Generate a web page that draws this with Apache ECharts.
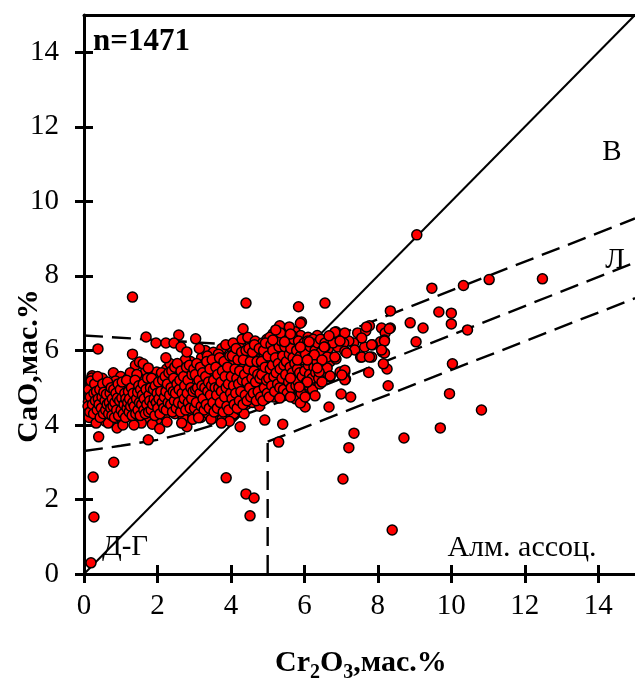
<!DOCTYPE html>
<html>
<head>
<meta charset="utf-8">
<script src="https://cdn.jsdelivr.net/npm/echarts@6/dist/echarts.min.js"></script>
<style>
  html, body { margin: 0; padding: 0; background: #fff; }
  #chart { width: 635px; height: 680px; }
</style>
</head>
<body>
<div id="chart"></div>
<script>
// Tick values shared by both axes (Cr2O3 and CaO, wt.%)
const ticks = [0, 2, 4, 6, 8, 10, 12, 14];

// Garnet analyses: dense lherzolite-trend core [Cr2O3, CaO]
const corePts = [
  [0.12,4.62],[0.15,4.85],[0.18,5.05],[0.2,4.4],[0.22,5.32],[0.25,4.72],[0.28,4.95],[0.3,4.25],[0.32,5.22],[0.35,4.55],
  [0.38,4.8],[0.4,5.1],[0.42,4.35],[0.45,4.65],[0.48,4.98],[0.5,5.25],[0.52,4.48],[0.55,4.75],[0.58,4.1],[0.6,5.0],
  [0.14,4.2],[0.24,5.15],[0.33,4.05],[0.46,4.88],[0.56,4.58],[0.21,5.26],
  [0.62,4.38],[0.65,4.7],[0.68,4.92],[0.7,5.08],[0.72,4.22],[0.75,4.55],[0.78,4.82],[0.8,5.4],[0.82,4.45],[0.85,4.68],
  [0.88,5.0],[0.9,3.92],[0.92,4.3],[0.95,4.58],[0.98,4.85],[1.0,5.3],[1.02,4.15],[1.05,4.5],[1.08,4.75],[1.1,5.05],
  [1.12,4.38],[1.15,4.62],[1.18,4.95],[1.2,5.25],[0.66,4.05],[0.86,5.18],[1.06,4.0],[0.96,4.45],
  [1.22,4.25],[1.25,4.55],[1.28,4.8],[1.32,5.1],[1.35,4.4],[1.38,4.68],[1.4,5.6],[1.42,4.95],[1.45,4.1],[1.48,4.5],
  [1.52,4.78],[1.55,5.2],[1.58,4.35],[1.62,4.62],[1.65,4.9],[1.68,5.45],[1.7,4.2],[1.72,4.72],[1.75,5.05],[1.78,4.45],
  [1.8,5.3],[1.26,5.4],[1.44,5.35],[1.56,4.05],[1.36,4.0],[1.74,4.58],
  [1.82,4.62],[1.85,4.85],[1.88,4.3],[1.9,5.15],[1.92,4.5],[1.95,4.75],[1.98,5.42],[2.0,4.15],[2.02,4.95],[2.05,4.6],
  [2.08,5.3],[2.1,4.38],[2.15,4.82],[2.18,5.05],[2.2,4.25],[2.22,4.55],[2.25,5.5],[2.28,4.7],[2.32,4.95],[2.35,4.4],
  [2.38,5.2],[2.4,4.8],[1.86,4.02],[2.06,3.9],[2.26,4.08],[2.34,5.65],
  [2.42,4.55],[2.45,5.05],[2.48,4.3],[2.5,5.45],[2.52,4.7],[2.55,4.9],[2.58,5.3],[2.6,4.45],[2.65,4.65],[2.68,5.15],
  [2.7,4.2],[2.72,5.6],[2.75,4.85],[2.78,5.0],[2.8,3.95],[2.82,4.5],[2.85,5.4],[2.88,4.75],[2.9,5.7],[2.92,4.35],
  [2.95,5.2],[2.98,4.6],[2.66,4.05],[2.76,5.75],[2.86,4.95],[2.96,4.15],
  [3.02,4.8],[3.05,5.1],[3.08,4.4],[3.1,5.5],[3.12,4.65],[3.15,5.3],[3.18,4.2],[3.2,5.8],[3.22,4.95],[3.25,4.55],
  [3.28,5.15],[3.3,6.0],[3.32,4.75],[3.35,5.45],[3.38,4.3],[3.4,5.65],[3.42,5.0],[3.45,4.6],[3.48,5.25],[3.5,4.85],
  [3.52,5.95],[3.55,4.45],[3.58,5.4],[3.6,4.2],[3.14,6.05],[3.36,5.85],[3.46,4.15],[3.26,5.62],[3.56,5.75],
  [3.62,5.1],[3.65,4.7],[3.68,5.6],[3.7,4.35],[3.72,5.3],[3.75,6.05],[3.78,4.9],[3.8,4.55],[3.82,5.5],[3.85,5.15],
  [3.88,4.25],[3.9,5.8],[3.92,4.75],[3.95,5.35],[3.98,6.1],[4.0,4.5],[4.02,5.0],[4.05,5.65],[4.08,4.3],[4.1,5.2],
  [4.12,5.95],[4.15,4.65],[4.18,5.45],[4.2,4.9],[3.66,5.9],[3.86,6.15],[3.76,4.15],[4.06,6.2],[3.96,4.1],
  [4.22,5.7],[4.25,4.4],[4.28,5.3],[4.3,6.3],[4.32,4.75],[4.35,5.55],[4.38,5.05],[4.42,4.55],[4.45,5.85],[4.48,5.2],
  [4.5,4.85],[4.52,6.15],[4.55,5.4],[4.58,4.6],[4.6,5.65],[4.62,5.0],[4.65,6.0],[4.68,4.75],[4.7,5.3],[4.72,5.9],
  [4.75,5.1],[4.78,4.5],[4.8,5.55],[4.26,6.05],[4.36,4.3],[4.46,6.35],[4.56,4.95],[4.66,6.25],[4.76,5.75],
  [4.82,6.1],[4.85,4.9],[4.88,5.4],[4.9,5.8],[4.92,5.15],[4.95,4.7],[4.98,6.3],[5.0,5.6],[5.02,5.0],[5.05,6.0],
  [5.08,5.3],[5.1,4.8],[5.12,5.75],[5.15,6.45],[5.18,5.1],[5.2,5.5],[5.22,6.2],[5.25,4.95],[5.28,5.85],[5.3,6.6],
  [5.32,5.35],[5.35,5.95],[5.38,4.85],[5.4,5.6],[4.86,6.2],[5.06,6.35],[5.16,4.75],[5.26,6.05],
  [5.42,5.2],[5.45,6.3],[5.48,5.75],[5.5,5.0],[5.52,6.05],[5.55,5.45],[5.58,6.6],[5.6,5.3],[5.62,5.85],[5.65,4.8],
  [5.68,6.2],[5.7,5.6],[5.72,5.1],[5.75,6.5],[5.78,5.9],[5.8,5.35],[5.82,6.1],[5.85,4.95],[5.88,5.7],[5.9,6.4],
  [5.92,5.2],[5.95,5.95],[5.98,5.5],[5.56,4.9],[5.76,4.7],[5.66,6.4],
  [6.02,6.15],[6.05,5.3],[6.08,5.75],[6.1,6.35],[6.12,5.05],[6.15,5.95],[6.18,5.5],[6.2,6.05],[6.22,4.95],[6.25,5.7],
  [6.28,6.25],[6.3,5.2],[6.32,5.85],[6.35,6.4],[6.38,5.45],[6.4,6.0],[6.42,5.1],[6.45,5.8],[6.48,6.15],[6.5,5.35],
  [6.55,5.95],[6.58,6.3],[6.6,5.6]
];

// Garnet analyses: further core points filling the densest part of the trend
const coreFillPts = [
  [0.11,4.5],[0.13,4.95],[0.16,4.35],[0.17,4.75],[0.19,5.18],[0.23,4.55],[0.26,4.3],[0.27,4.85],[0.29,5.1],[0.31,4.65],
  [0.34,4.9],[0.36,4.4],[0.37,5.3],[0.39,4.7],[0.41,4.55],[0.43,4.95],[0.44,4.2],[0.47,4.45],[0.49,4.75],[0.51,5.1],
  [0.53,4.3],[0.54,4.88],[0.57,4.65],[0.59,4.4],[0.61,4.82],[0.63,4.55],[0.64,5.15],[0.67,4.3],[0.69,4.6],[0.71,4.85],
  [0.73,4.45],[0.74,5.0],[0.76,4.25],[0.77,4.7],[0.79,4.5],[0.81,4.95],[0.83,4.2],[0.84,4.6],[0.87,4.85],[0.89,4.4],
  [0.91,4.72],[0.93,5.1],[0.94,4.25],[0.97,4.65],[0.99,4.95],
  [1.01,4.4],[1.03,4.72],[1.04,5.15],[1.07,4.3],[1.09,4.55],[1.11,4.85],[1.13,4.2],[1.14,4.7],[1.16,5.2],[1.17,4.45],
  [1.19,4.6],[1.21,4.9],[1.23,4.35],[1.24,4.7],[1.27,4.5],[1.29,5.0],[1.31,4.25],[1.33,4.6],[1.34,4.85],[1.37,4.5],
  [1.39,5.2],[1.41,4.3],[1.43,4.7],[1.46,4.88],[1.47,4.4],[1.49,5.05],[1.51,4.6],[1.53,4.25],[1.54,4.95],[1.57,4.55],
  [1.59,4.8],[1.61,5.1],[1.63,4.4],[1.64,4.7],[1.67,4.3],[1.69,4.95],[1.71,4.55],[1.73,5.25],[1.76,4.35],[1.77,4.8],
  [1.79,4.65],[1.81,5.0],[1.83,4.4],[1.84,5.25],[1.87,4.55],[1.89,4.95],[1.91,4.7],[1.93,4.25],[1.94,5.05],[1.97,4.6],
  [1.99,4.85],
  [2.01,4.45],[2.03,5.15],[2.04,4.7],[2.07,4.3],[2.09,4.9],[2.11,5.4],[2.13,4.6],[2.14,5.2],[2.17,4.45],[2.19,4.75],
  [2.21,5.3],[2.23,4.9],[2.24,4.4],[2.27,5.1],[2.29,4.6],[2.31,5.4],[2.33,4.8],[2.36,4.55],[2.37,5.0],[2.39,5.45],
  [2.41,4.35],[2.43,4.9],[2.44,5.25],[2.46,4.65],[2.47,5.55],[2.49,4.85],[2.51,4.45],[2.53,5.1],[2.54,5.65],[2.57,4.6],
  [2.59,4.95],[2.61,5.2],[2.63,4.35],[2.64,5.45],[2.67,4.85],[2.69,4.55],[2.71,5.3],[2.73,4.7],[2.74,5.05],[2.77,4.4],
  [2.79,5.55],[2.81,4.85],[2.83,5.2],[2.84,4.6],[2.87,5.6],[2.89,4.45],[2.91,5.0],[2.93,4.7],[2.94,5.35],[2.97,4.9],
  [2.99,5.5],
  [3.01,4.45],[3.03,5.35],[3.04,4.95],[3.06,4.6],[3.07,5.65],[3.09,5.0],[3.11,4.3],[3.13,5.2],[3.16,4.85],[3.17,5.55],
  [3.19,4.5],[3.21,5.05],[3.23,5.4],[3.24,4.7],[3.27,4.4],[3.29,5.0],[3.31,5.3],[3.33,4.55],[3.34,5.7],[3.37,4.9],
  [3.39,5.15],[3.41,4.45],[3.43,5.5],[3.44,4.8],[3.47,5.05],[3.49,5.75],[3.51,4.6],[3.53,5.2],[3.54,4.35],[3.57,5.0],
  [3.59,5.55],[3.61,4.8],[3.63,4.45],[3.64,5.35],[3.67,5.0],[3.69,5.8],[3.71,4.6],[3.73,5.15],[3.74,4.9],[3.77,5.45],
  [3.79,4.35],[3.81,5.7],[3.83,4.75],[3.84,5.3],[3.87,5.0],[3.89,4.5],[3.91,5.55],[3.93,5.1],[3.94,4.4],[3.97,5.85],
  [3.99,4.85],
  [4.01,5.3],[4.03,4.7],[4.04,5.85],[4.07,5.05],[4.09,4.55],[4.11,5.5],[4.13,4.85],[4.14,6.05],[4.16,5.25],[4.17,4.45],
  [4.19,5.75],[4.21,5.1],[4.23,4.65],[4.24,5.45],[4.27,4.9],[4.29,5.95],[4.31,5.2],[4.33,4.55],[4.34,5.75],[4.37,5.35],
  [4.39,4.8],[4.41,6.0],[4.43,5.15],[4.44,4.65],[4.47,5.5],[4.49,6.05],[4.51,5.0],[4.53,5.7],[4.54,4.75],[4.57,5.25],
  [4.59,5.95],[4.61,4.85],[4.63,5.45],[4.64,6.15],[4.67,5.15],[4.69,4.65],[4.71,5.7],[4.73,5.35],[4.74,4.9],[4.77,6.05],
  [4.79,5.25],[4.81,4.75],[4.83,5.7],[4.84,5.35],[4.87,4.65],[4.89,6.0],[4.91,5.0],[4.93,5.55],[4.94,6.2],[4.97,5.2],
  [4.99,4.85],
  [5.01,5.85],[5.03,5.25],[5.04,4.75],[5.07,5.5],[5.09,6.15],[5.11,5.05],[5.13,5.6],[5.14,6.0],[5.17,5.3],[5.19,4.9],
  [5.21,5.8],[5.23,5.4],[5.24,6.3],[5.27,5.1],[5.29,5.65],[5.31,6.1],[5.33,5.0],[5.34,5.5],[5.37,6.25],[5.39,5.25],
  [5.41,5.85],[5.43,4.95],[5.44,5.6],[5.47,6.1],[5.49,5.35],[5.51,5.7],[5.53,4.85],[5.54,6.25],[5.57,5.15],[5.59,5.9],
  [5.61,5.55],[5.63,6.05],[5.64,5.0],[5.67,5.4],[5.69,5.8],[5.71,6.3],[5.73,5.25],[5.74,5.65],[5.77,5.05],[5.79,6.0],
  [5.81,5.5],[5.83,5.15],[5.84,6.25],[5.87,5.4],[5.89,5.85],[5.91,4.85],[5.93,6.05],[5.94,5.3],[5.97,5.75],[5.99,6.2],
  [6.01,5.45],[6.03,5.9],[6.06,5.15],[6.09,6.25],[6.11,5.6],[6.14,5.35],[6.16,6.1],[6.19,5.8],[6.21,5.25],[6.24,6.3],
  [6.26,5.55],[6.29,6.0],[6.31,5.4],[6.34,5.7],[6.36,6.2],[6.39,5.25],[6.41,5.85],[6.44,6.3],[6.46,5.5],[6.49,6.0],
  [6.52,5.7],[6.56,6.2],[6.6,5.85],[6.65,6.05],[6.7,5.7]
];

// Garnet analyses: sparser points around and away from the core
const outerPts = [
  [1.32,7.43],[4.41,7.27],[0.38,6.04],[1.69,6.36],[2.58,6.41],[3.04,6.31],[1.96,6.2],[2.23,6.2],[2.45,6.2],[2.64,6.09],
  [2.8,5.96],[1.32,5.9],[1.51,5.69],[1.61,5.64],[1.75,5.53],[2.23,5.8],[4.33,6.58],[0.4,3.68],[1.75,3.6],[3.74,4.05],
  [4.25,3.95],[4.92,4.13],[0.25,2.6],[0.27,1.53],[0.19,0.3],[0.81,3.0],[3.87,2.58],[4.41,2.15],[4.63,2.04],[4.52,1.56],
  [5.3,3.54],[5.41,4.02],[3.12,4.19],
  [9.06,9.1],[6.56,7.27],[5.84,7.17],[5.92,6.76],[5.89,6.73],[8.34,7.06],[9.47,7.67],[10.33,7.74],[11.03,7.9],[12.48,7.92],
  [9.66,7.03],[10.0,7.0],[10.0,6.71],[8.88,6.74],[9.23,6.6],[9.04,6.23],[10.44,6.55],[10.03,5.64],[9.95,4.84],[10.82,4.4],
  [9.7,3.92],[8.71,3.65],[7.35,3.78],[7.21,3.39],[7.05,2.55],[8.39,1.18],[8.28,5.05],[8.25,5.5],[8.15,5.64],[7.75,5.41],
  [7.26,4.75],[7.0,4.83],[6.67,4.48],[6.29,4.78],[6.02,4.48],[7.12,5.23],[7.1,5.42],
  [6.86,6.5],[6.72,6.39],[7.45,6.47],[7.67,6.52],[7.77,6.66],[8.1,6.6],[8.34,6.6],[8.2,6.47],[8.07,6.23],[8.18,6.28],
  [7.85,6.15],[7.64,6.09],[7.56,6.33],[7.34,6.2],[7.21,6.25],[7.07,6.2],[6.91,6.09],[6.78,6.2],[6.56,6.09],[6.43,5.93],
  [6.62,5.82],[6.86,5.77],[7.1,5.98],[7.37,6.01],[7.53,5.82],[7.83,5.82],[8.12,5.96],[8.18,5.93],[6.27,5.88],[6.43,5.56],
  [6.62,5.53],[6.4,5.42],[6.7,5.29],[6.97,5.42],[7.1,5.21],
  [5.33,6.66],[5.59,6.63],[5.35,6.47],[5.22,6.55],[5.62,6.44],[5.14,6.28],[5.46,6.23],[6.13,6.23],[5.89,6.09],[6.54,6.09],
  [6.83,6.49],[6.67,6.39],[7.1,6.47],[6.97,6.25],[7.69,6.63],[8.31,6.58],[8.18,6.25],[8.1,6.01],[7.83,6.15],[7.15,5.93],
  [7.56,5.82],[7.77,5.82],[6.83,5.82],[6.48,5.74],[7.1,5.47],[7.02,5.34],[6.7,5.31],[6.35,5.53],[6.08,5.15],[6.48,5.15],
  [5.81,5.74],[6.08,5.74],[5.62,5.26],[5.86,5.02],[5.33,4.72],[5.89,4.59],[5.62,4.75],[6.02,4.75]
];

// Field boundaries
const diagLine = [[0, 0], [15, 15]];
const upperBound = [[0, 6.4], [5.94, 6.04], [15, 9.54]];
const middleBound = [[0, 3.3], [1, 3.44], [2, 3.6], [3, 3.84], [4, 4.14], [5, 4.5], [6, 4.86], [7, 5.24], [15, 8.36]];
const lowerBound = [[5, 3.55], [15, 7.4]];
const verticalBound = [[5, 0], [5, 3.55]];

const SERIF = '"Liberation Serif", "Times New Roman", serif';
const black = '#000';

const chart = echarts.init(document.getElementById('chart'), null, { renderer: 'canvas' });

function dashed(data) {
  return {
    type: 'line', data: data, symbol: 'none', silent: true, z: 2,
    xAxisIndex: 0, yAxisIndex: 0,
    lineStyle: { color: black, width: 2.4, type: [19, 9] }
  };
}

const baseAxis = {
  type: 'value', min: 0, max: 15, interval: 2,
  splitLine: { show: false }
};

chart.setOption({
  animation: false,
  backgroundColor: '#fff',
  grid: { left: 84, top: 15, right: -7, bottom: 106 },
  xAxis: [
    Object.assign({}, baseAxis, {
      position: 'bottom',
      axisLine: { show: true, lineStyle: { color: black, width: 3 } },
      axisTick: { show: true, inside: false, length: 9, lineStyle: { color: black, width: 3 }, customValues: ticks },
      axisLabel: { color: black, fontFamily: SERIF, fontSize: 29, margin: 18, customValues: ticks }
    }),
    Object.assign({}, baseAxis, {
      position: 'bottom',
      axisLine: { show: false },
      axisTick: { show: true, inside: true, length: 9, lineStyle: { color: black, width: 3 }, customValues: ticks },
      axisLabel: { show: false }
    }),
    Object.assign({}, baseAxis, {
      position: 'top',
      axisLine: { show: true, lineStyle: { color: black, width: 3 } },
      axisTick: { show: false },
      axisLabel: { show: false }
    })
  ],
  yAxis: [
    Object.assign({}, baseAxis, {
      position: 'left',
      axisLine: { show: true, lineStyle: { color: black, width: 3 } },
      axisTick: { show: true, inside: false, length: 9, lineStyle: { color: black, width: 3 }, customValues: ticks },
      axisLabel: { color: black, fontFamily: SERIF, fontSize: 29, margin: 25, customValues: ticks }
    }),
    Object.assign({}, baseAxis, {
      position: 'left',
      axisLine: { show: false },
      axisTick: { show: true, inside: true, length: 9, lineStyle: { color: black, width: 3 }, customValues: ticks },
      axisLabel: { show: false }
    })
  ],
  series: [
    {
      type: 'line', data: diagLine, symbol: 'none', silent: true, z: 2,
      xAxisIndex: 0, yAxisIndex: 0,
      lineStyle: { color: black, width: 2 }
    },
    dashed(upperBound),
    dashed(middleBound),
    dashed(lowerBound),
    dashed(verticalBound),
    {
      type: 'scatter', xAxisIndex: 0, yAxisIndex: 0, z: 3,
      data: corePts.concat(coreFillPts, outerPts),
      symbol: 'circle', symbolSize: 10, large: false,
      itemStyle: { color: '#ff0000', borderColor: black, borderWidth: 1.5, opacity: 1 }
    }
  ],
  graphic: [
    { type: 'text', left: 93, top: 26, z: 10,
      style: { text: 'n=1471', font: 'bold 31px ' + SERIF, fill: black } },
    { type: 'text', x: 612, y: 152, z: 10,
      style: { text: 'В', font: '29px ' + SERIF, fill: black, align: 'center', verticalAlign: 'middle' } },
    { type: 'text', x: 615, y: 260, z: 10,
      style: { text: 'Л', font: '29px ' + SERIF, fill: black, align: 'center', verticalAlign: 'middle' } },
    { type: 'text', x: 125, y: 547, z: 10,
      style: { text: 'Д-Г', font: '29px ' + SERIF, fill: black, align: 'center', verticalAlign: 'middle' } },
    { type: 'text', x: 522, y: 548, z: 10,
      style: { text: 'Алм. ассоц.', font: '30px ' + SERIF, fill: black, align: 'center', verticalAlign: 'middle' } },
    { type: 'text', x: 29, y: 366, rotation: Math.PI / 2, z: 10,
      style: { text: 'CaO,мас.%', font: 'bold 30px ' + SERIF, fill: black, align: 'center', verticalAlign: 'middle' } },
    { type: 'text', x: 275, y: 663, z: 10,
      style: {
        text: '{b|Cr}{s|2}{b|O}{s|3}{b|,мас.%}',
        align: 'left', verticalAlign: 'middle',
        rich: {
          b: { font: 'bold 30px ' + SERIF, fill: black, lineHeight: 40, verticalAlign: 'middle' },
          s: { font: 'bold 20px ' + SERIF, fill: black, lineHeight: 40, verticalAlign: 'bottom' }
        }
      } }
  ]
});
</script>
</body>
</html>
